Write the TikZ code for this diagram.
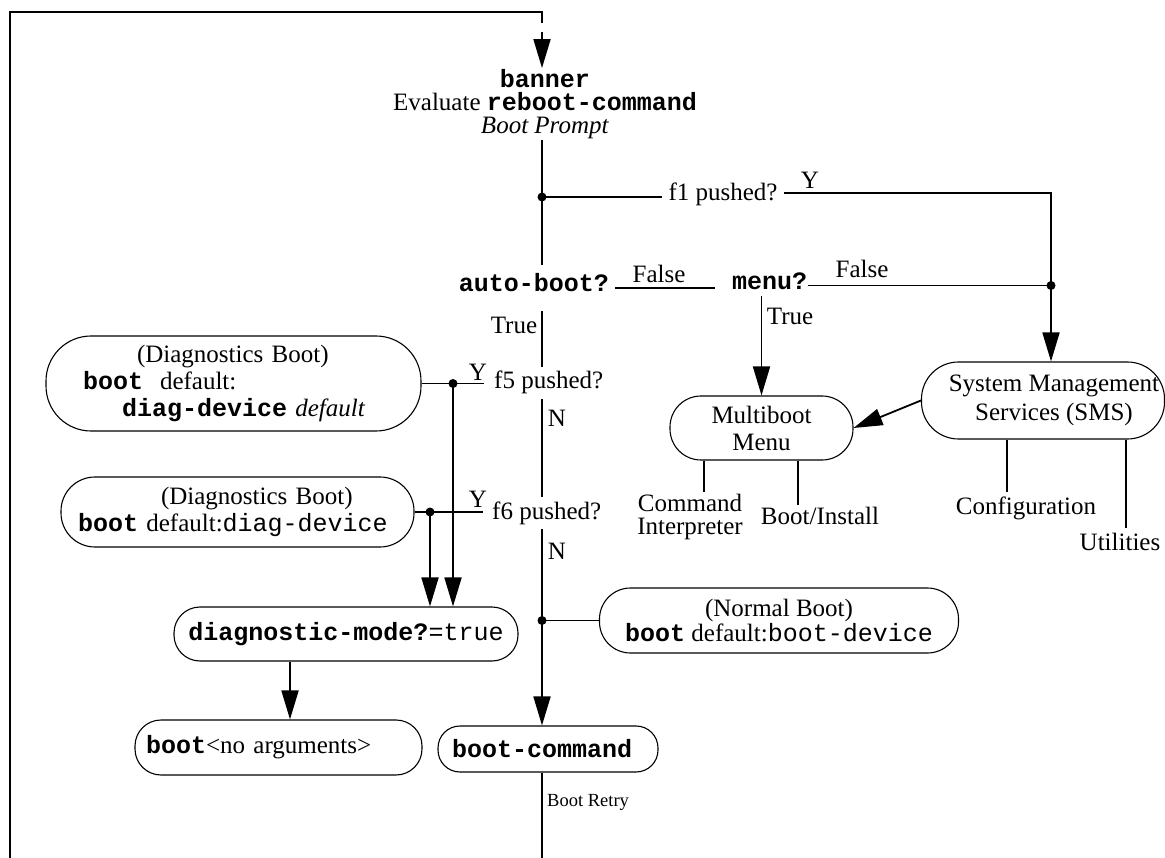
\documentclass[tikz,border=0pt]{standalone}
\usepackage{fontspec}
\setmainfont{Liberation Serif}
\setmonofont{Liberation Mono}
\usetikzlibrary{arrows.meta}
\newcommand{\cbold}[1]{\texttt{\textbf{#1}}}
\tikzset{
  conn/.style={line width=1.8pt},
  leg/.style={line width=1.5pt},
  arr/.style={conn, -{Triangle[length=29pt,width=17pt]}},
  txt/.style={font=\fontsize{25pt}{27pt}\selectfont, inner sep=0pt},
  pill/.style={draw, line width=1.1pt, font=\fontsize{25pt}{27pt}\selectfont, inner sep=0pt, align=center},
  dot/.style={fill=black},
}
\begin{document}
\begin{tikzpicture}[x=1pt,y=-1pt]
\useasboundingbox (0,0) rectangle (1165,858);

% ---- nodes ----
\node[txt, align=center, inner sep=1pt, font=\fontsize{25pt}{23pt}\selectfont] (banner) at (545,104)
  {\cbold{banner}\\Evaluate \cbold{reboot-command}\\\textit{Boot Prompt}};
\node[txt, anchor=base, text height=16pt, text depth=8pt, inner ysep=11pt, inner xsep=6pt] (autoboot) at (534,292) {\cbold{auto-boot?}};
\node[txt, anchor=base, text height=14pt, text depth=5pt, inner sep=1pt] (menu) at (769.5,290) {\cbold{menu?}};
\node[txt, anchor=base, inner xsep=6pt] (f1) at (723,201) {f1 pushed?};
\node[txt, anchor=base west, inner xsep=10pt, inner ysep=4.5pt] (f5) at (484,389) {f5 pushed?};
\node[txt, anchor=base west, inner xsep=9pt, inner ysep=4.5pt] (f6) at (483,519) {f6 pushed?};

\node[pill, minimum width=375pt, minimum height=95pt, rounded corners=45pt, text width=301pt, align=left, inner xsep=37pt] (diag1) at (233.5,383.5)
  {\hspace*{54pt}(Diagnostics Boot)\\\cbold{boot}\hspace{17pt}default:\\\hspace*{39pt}\cbold{diag-device} \textit{default}};
\node[pill, minimum width=353pt, minimum height=70pt, rounded corners=34pt, text width=319pt, align=left, inner xsep=17pt] (diag2) at (237.5,512)
  {\hspace*{83pt}(Diagnostics Boot)\\\cbold{boot} default:\texttt{diag-device}};
\node[pill, minimum width=344pt, minimum height=54pt, rounded corners=26pt] (diagmode) at (346,634)
  {\cbold{diagnostic-mode?}\texttt{=true}};
\node[pill, minimum width=287pt, minimum height=55pt, rounded corners=26pt, text width=265pt, align=left, inner xsep=11pt] (noargs) at (278.5,747.5)
  {\cbold{boot}\textless no arguments\textgreater};
\node[pill, minimum width=220pt, minimum height=46pt, rounded corners=22pt, text width=192pt, align=left, inner xsep=14pt] (bootcmd) at (548,749)
  {\cbold{boot-command}};
\node[pill, minimum width=359pt, minimum height=65pt, rounded corners=31pt, font=\fontsize{25pt}{25pt}\selectfont] (normal) at (779,620.5)
  {(Normal Boot)\\\cbold{boot} default:\texttt{boot-device}};
\node[pill, minimum width=183pt, minimum height=64pt, rounded corners=31pt] (multiboot) at (761.5,428) {Multiboot\\Menu};
\node[pill, minimum width=243pt, minimum height=77pt, rounded corners=37pt, font=\fontsize{25pt}{29pt}\selectfont] (sms) at (1043,400.5)
  {\hspace*{22pt}System Management\\\hspace*{22pt}Services (SMS)};

\node[txt, align=center, inner sep=2pt, font=\fontsize{25pt}{23pt}\selectfont] (cmdint) at (690,517) {Command\\Interpreter};
\node[txt, inner sep=2pt] (bootinst) at (820,516) {Boot/Install};
\node[txt, inner sep=4pt] (config) at (1026,508) {Configuration};
\node[txt, inner sep=5pt] (util) at (1120,542) {Utilities};

% labels
\node[txt, anchor=base] (ly1) at (810,189) {Y};
\node[txt, anchor=base] (ly5) at (478,381) {Y};
\node[txt, anchor=base] (ly6) at (478,507) {Y};
\node[txt, anchor=base] (lf1) at (659,283) {False};
\node[txt, anchor=base] (lf2) at (862,278) {False};
\node[txt, anchor=base] (lt1) at (514,334) {True};
\node[txt, anchor=base] (lt2) at (790,325) {True};
\node[txt, anchor=base] (ln5) at (557,427) {N};
\node[txt, anchor=base] (ln6) at (557,559) {N};
\node[anchor=base west, inner sep=0pt, font=\fontsize{18.5pt}{20pt}\selectfont] (retry) at (547,806) {Boot Retry};

% ---- coordinates ----
\coordinate (ltop) at (10,12);
\coordinate (mtop) at (542,12);
\coordinate (gapA) at (542,23);
\coordinate (gapB) at (542,32);
\coordinate (lbot) at (10,858);
\coordinate (mbot) at (542,858);
\coordinate (j1) at (542,197);
\coordinate (c1) at (1051,193);
\coordinate (j3) at (1051,285.5);
\coordinate (fl) at (715,288);
\coordinate (d5) at (453,383.5);
\coordinate (d6) at (430,512);
\coordinate (j2) at (542,620.5);

% ---- connectors ----
\draw[conn] (lbot) -- (ltop) -- (mtop) -- (gapA);
\draw[arr] (gapB) -- (banner.north -| gapB);
\draw[conn] (banner.south -| j1) -- (autoboot.north -| j1);
\draw[conn] (j1) -- (j1 -| f1.west);
\draw[conn] (f1.east |- c1) -- (c1) -- (j3);
\draw[arr] (j3) -- (sms.north -| j3);
\draw[conn] (autoboot.east) -- (fl);
\draw[conn] (menu.east) -- (j3);
\draw[arr] (menu.south -| multiboot.north) -- (multiboot.north);
\draw[arr] (sms.west) -- (multiboot.east);

\draw[leg] ([xshift=14pt]multiboot.south -| cmdint.north) -- ([xshift=14pt]cmdint.north);
\draw[leg] ([xshift=-22pt]multiboot.south -| bootinst.north) -- ([xshift=-22pt]bootinst.north);
\draw[leg] ([xshift=-19pt]sms.south -| config.north) -- ([xshift=-19pt]config.north);
\draw[leg] ([xshift=6pt]sms.south -| util.north) -- ([xshift=6pt]util.north);

\draw[conn] (autoboot.south -| j1) -- (f5.north -| j1);
\draw[conn] (f5.south -| j1) -- (f6.north -| j1);
\draw[arr] (f6.south -| j1) -- (bootcmd.north -| j1);
\draw[conn] (j2) -- (normal.west);
\draw[conn] (bootcmd.south -| j1) -- (mbot);

\draw[conn] (diag1.east) -- (diag1.east -| f5.west);
\draw[conn] (diag2.east) -- (diag2.east -| f6.west);
\draw[arr] (d5) -- (d5 |- diagmode.north);
\draw[arr] (d6) -- (d6 |- diagmode.north);
\draw[arr] ([xshift=-56pt]diagmode.south) -- ([xshift=-56pt]diagmode.south |- noargs.north);

\fill[dot] (j1) circle (4.5pt);
\fill[dot] (j3) circle (4.5pt);
\fill[dot] (d5) circle (4.5pt);
\fill[dot] (d6) circle (4.5pt);
\fill[dot] (j2) circle (4.5pt);
\end{tikzpicture}
\end{document}
